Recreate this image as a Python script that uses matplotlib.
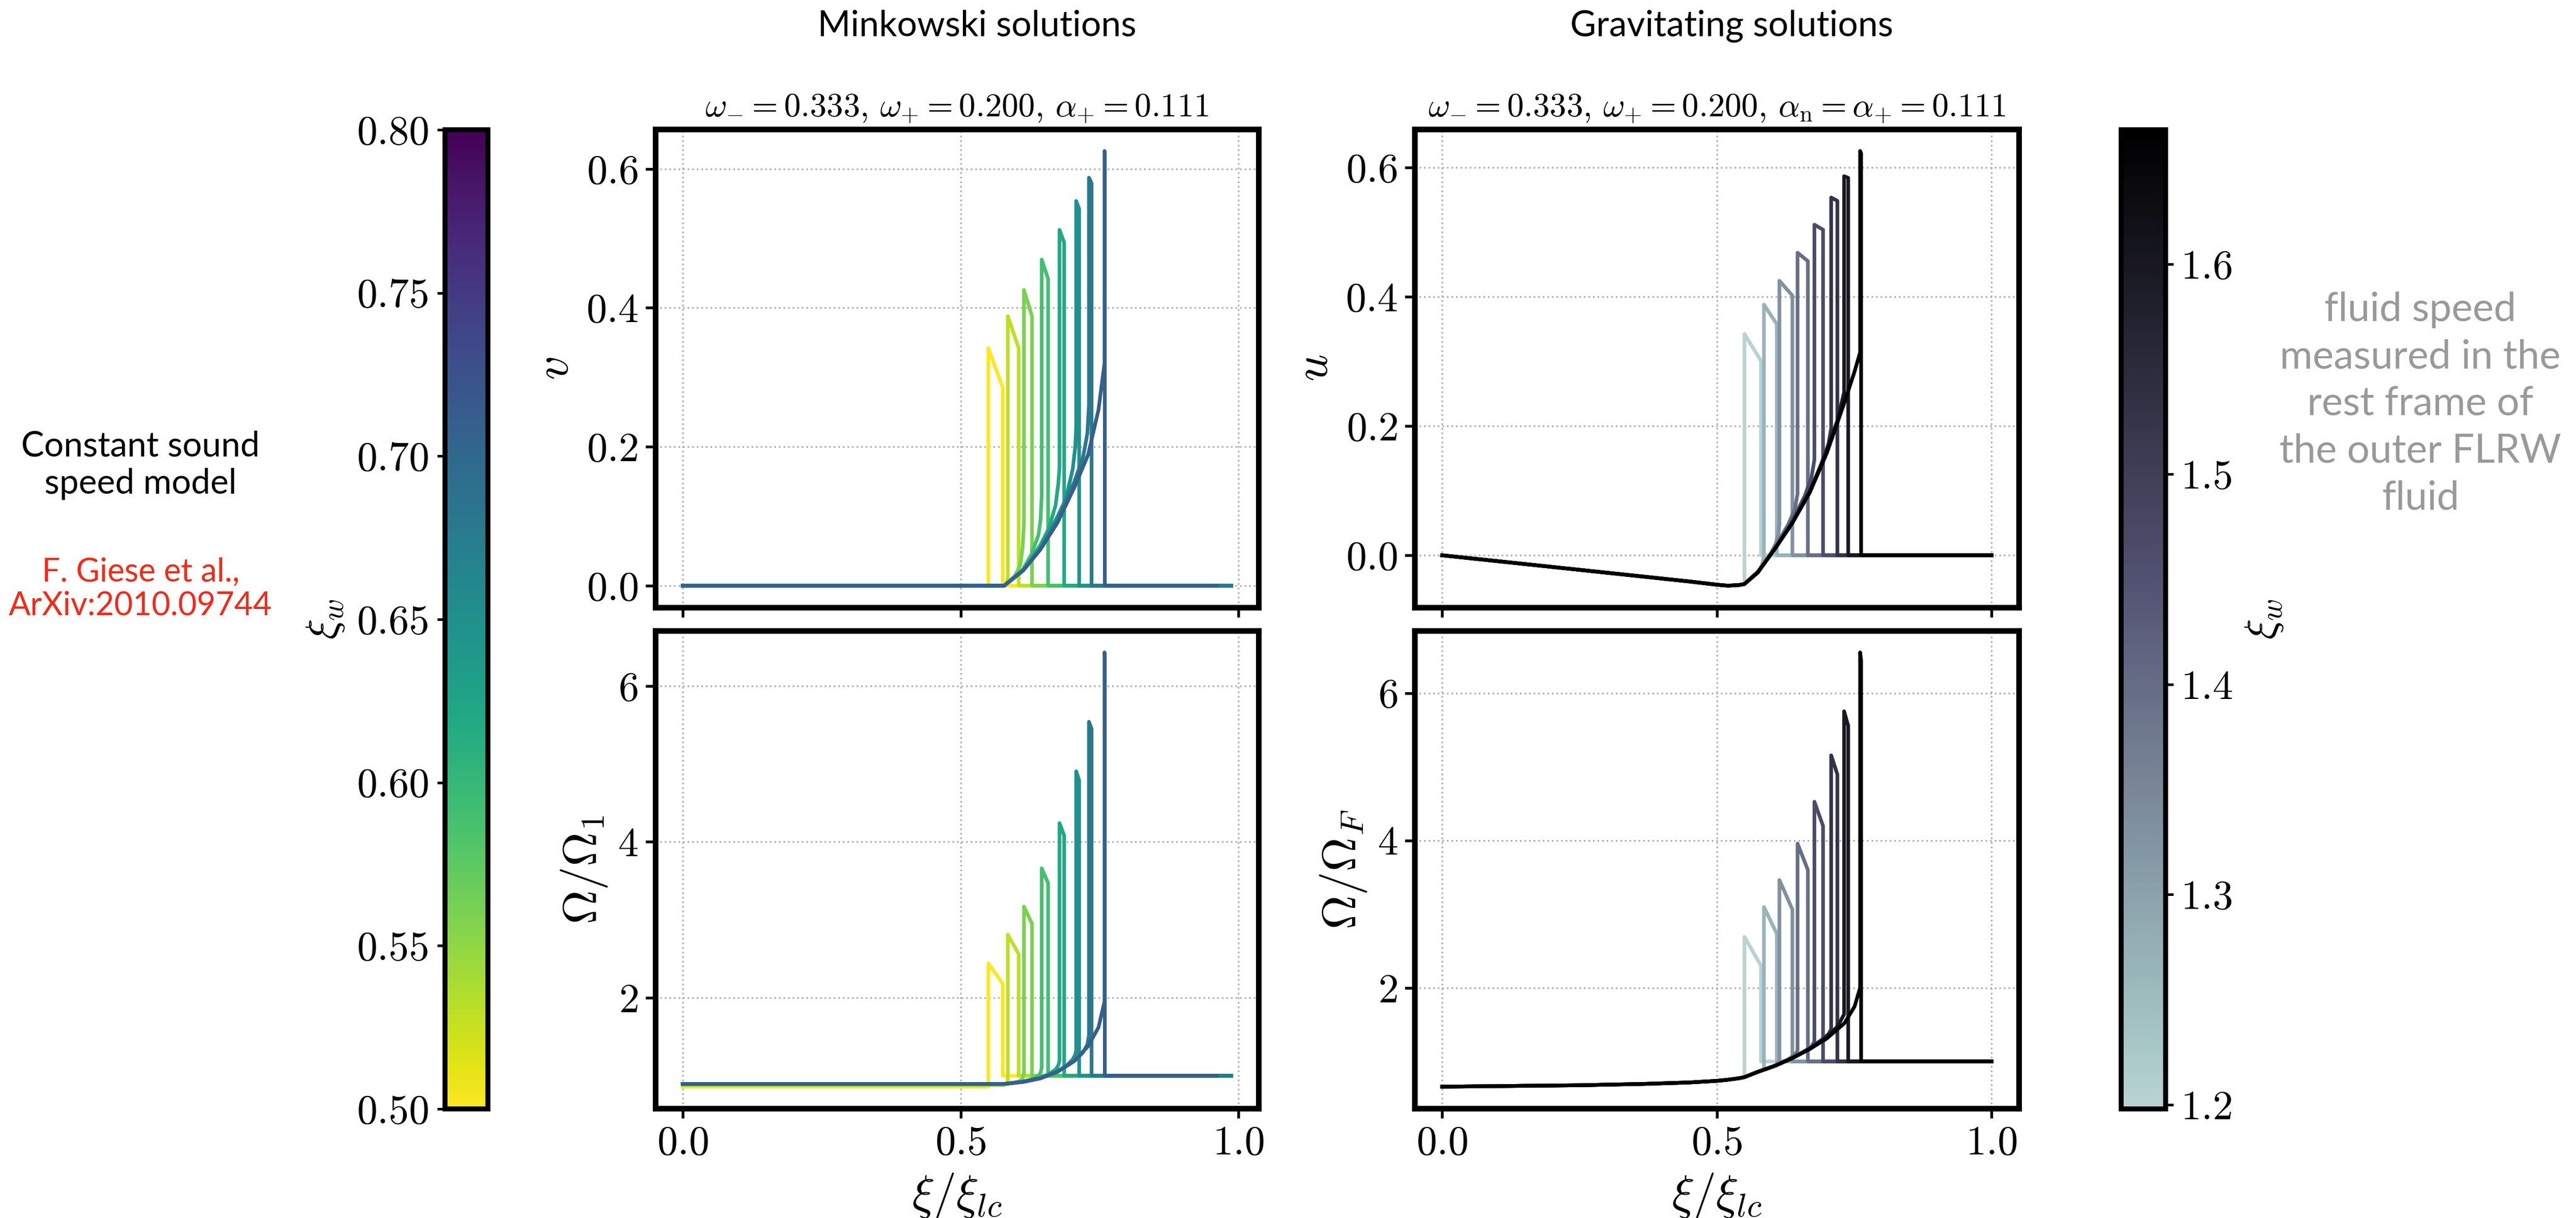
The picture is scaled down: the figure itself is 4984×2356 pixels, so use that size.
import numpy as np
import matplotlib
matplotlib.use('Agg')
import matplotlib.pyplot as plt
from matplotlib.colors import Normalize, ListedColormap
from matplotlib.cm import ScalarMappable
from matplotlib.ticker import FormatStrFormatter

# ---------------- data ----------------
# Minkowski solutions (left column), one entry per curve
mink_xiw = [0.50, 0.53, 0.56, 0.59, 0.62, 0.65, 0.68, 0.71]          # colour value
mink_wall = [0.550, 0.585, 0.614, 0.646, 0.678, 0.708, 0.731, 0.759]
mink_shock = [0.576, 0.6045, 0.6285, 0.6575, 0.6864, 0.7134, 0.7357, 0.7595]
mink_end = [0.987, 0.987, 0.987, 0.987, 0.987, 0.987, 0.987, 0.961]

# rarefaction wave behind the wall (x positions shared by v and Omega)
mink_rare_x = [
    [],
    [0.5785, 0.583],
    [0.5785, 0.597, 0.6077, 0.6117],
    [0.5785, 0.6125, 0.6278, 0.6402, 0.6439],
    [0.5785, 0.6125, 0.6433, 0.6587, 0.6710, 0.6757],
    [0.5785, 0.6125, 0.6433, 0.6741, 0.6895, 0.7018, 0.7064],
    [0.5785, 0.6125, 0.6433, 0.6741, 0.7049, 0.7204, 0.7281],
    [0.5785, 0.6125, 0.6433, 0.6741, 0.7049, 0.7296, 0.7481],
]
mink_v_rare = [
    [],
    [0.0, 0.004],
    [0.0, 0.013, 0.030, 0.056],
    [0.0, 0.024, 0.0455, 0.073, 0.095],
    [0.0, 0.022, 0.058, 0.082, 0.116, 0.146],
    [0.0, 0.022, 0.053, 0.099, 0.125, 0.168, 0.200],
    [0.0, 0.022, 0.052, 0.092, 0.150, 0.185, 0.219],
    [0.0, 0.0217, 0.0517, 0.0903, 0.1417, 0.1888, 0.253],
]
mink_v_lo = [0.0, 0.012, 0.09, 0.13, 0.17, 0.23, 0.26, 0.32]
mink_v_peak = [0.342, 0.388, 0.4257, 0.4694, 0.5122, 0.5538, 0.5873, 0.6258]
mink_v_sh = [0.285, 0.342, 0.388, 0.4416, 0.4939, 0.5422, 0.5795, 0.624]

mink_om_flat = [0.86, 0.88, 0.895, 0.895, 0.895, 0.895, 0.895, 0.895]
mink_om_rare = [
    [],
    [0.88, 0.90],
    [0.895, 0.91, 0.935, 0.97],
    [0.895, 0.925, 0.955, 0.995, 1.04],
    [0.895, 0.925, 0.975, 1.02, 1.08, 1.13],
    [0.895, 0.925, 0.97, 1.06, 1.12, 1.21, 1.27],
    [0.895, 0.922, 0.968, 1.05, 1.19, 1.30, 1.40],
    [0.895, 0.92, 0.965, 1.05, 1.19, 1.38, 1.62],
]
mink_om_lo = [0.86, 0.93, 1.03, 1.10, 1.19, 1.33, 1.52, 1.95]
mink_om_peak = [2.44, 2.81, 3.17, 3.66, 4.24, 4.905, 5.54, 6.43]
mink_om_sh = [2.18, 2.56, 2.95, 3.47, 4.08, 4.79, 5.45, 6.39]

# Gravitating solutions (right column)
grav_xiw = [1.198, 1.265, 1.331, 1.398, 1.464, 1.531, 1.597, 1.664]
grav_wall = [0.5501, 0.5856, 0.6138, 0.6468, 0.6775, 0.708, 0.7315, 0.7607]
grav_shock = [0.5802, 0.6091, 0.6374, 0.6656, 0.6932, 0.7193, 0.739, 0.7625]

grav_left_x = [0.0, 0.25, 0.37, 0.45, 0.50, 0.52, 0.54, 0.55]
grav_u_left = [0.0, -0.0225, -0.0333, -0.0405, -0.0455, -0.047, -0.046, -0.0445]
grav_om_left = [0.658, 0.677, 0.696, 0.715, 0.737, 0.752, 0.772, 0.787]

grav_rare_x = [
    [],
    [0.575, 0.582],
    [0.5746, 0.595, 0.607, 0.612],
    [0.5746, 0.606, 0.630, 0.642],
    [0.5746, 0.606, 0.637, 0.660, 0.672],
    [0.5746, 0.606, 0.637, 0.669, 0.690, 0.703],
    [0.5746, 0.606, 0.637, 0.669, 0.700, 0.720],
    [0.5746, 0.606, 0.637, 0.669, 0.700, 0.732, 0.7505],
]
grav_u_rare = [
    [],
    [-0.027, -0.015],
    [-0.025, -0.002, 0.018, 0.033],
    [-0.026, 0.013, 0.048, 0.072],
    [-0.026, 0.011, 0.053, 0.092, 0.120],
    [-0.026, 0.0105, 0.050, 0.100, 0.140, 0.172],
    [-0.0264, 0.0105, 0.0495, 0.098, 0.162, 0.210],
    [-0.0264, 0.0105, 0.0495, 0.097, 0.158, 0.236, 0.284],
]
grav_u_lo = [-0.0445, 0.0, 0.048, 0.095, 0.148, 0.196, 0.252, 0.314]
grav_u_peak = [0.3422, 0.3878, 0.4246, 0.468, 0.5114, 0.5534, 0.5864, 0.6254]
grav_u_sh = [0.301, 0.3574, 0.4017, 0.455, 0.5036, 0.5482, 0.5838, 0.622]

grav_om_rare = [
    [],
    [0.86, 0.875],
    [0.86, 0.91, 0.95, 0.985],
    [0.86, 0.945, 1.03, 1.09],
    [0.86, 0.943, 1.05, 1.14, 1.20],
    [0.86, 0.942, 1.045, 1.18, 1.29, 1.37],
    [0.859, 0.941, 1.044, 1.17, 1.33, 1.48],
    [0.859, 0.941, 1.044, 1.168, 1.312, 1.518, 1.745],
]
grav_om_lo = [0.787, 0.90, 1.02, 1.147, 1.27, 1.436, 1.64, 2.0]
grav_om_peak = [2.692, 3.096, 3.462, 3.957, 4.525, 5.155, 5.753, 6.552]
grav_om_sh = [2.30, 2.733, 3.063, 3.598, 4.196, 4.896, 5.555, 6.44]

# ---------------- style ----------------
plt.rcParams['font.family'] = 'serif'
plt.rcParams['font.serif'] = ['cmr10']
plt.rcParams['mathtext.fontset'] = 'cm'
plt.rcParams['axes.formatter.use_mathtext'] = True

SANS = 'Lato'
TICK_FS = 19
LABEL_FS = 22
LW = 1.7

mink_cmap = plt.get_cmap('viridis_r')
mink_norm = Normalize(0.5, 0.8)
grav_cmap = ListedColormap(plt.get_cmap('bone')(np.linspace(0.8, 0.0, 256)))
grav_norm = Normalize(min(grav_xiw), max(grav_xiw))


def profile(head_x, head_y, rx, ry, wall, lo, peak, shock, sh, base, end):
    xs = head_x + rx + [wall, wall, shock, shock, end]
    ys = head_y + ry + [lo, peak, sh, base, base]
    return xs, ys


def style(ax, yticks):
    ax.grid(True, ls=':', lw=0.8, color='#b0b0b0')
    for s in ax.spines.values():
        s.set_linewidth(2.6)
    ax.tick_params(direction='out', length=4.5, width=1.3, labelsize=TICK_FS)
    ax.set_xticks([0.0, 0.5, 1.0])
    ax.set_yticks(yticks)


fig = plt.figure(figsize=(4984 / 300, 2356 / 300), dpi=300)

ax_mv = fig.add_axes([0.2544, 0.5013, 0.2342, 0.3926])
ax_mo = fig.add_axes([0.2544, 0.0900, 0.2342, 0.3922])
ax_gu = fig.add_axes([0.5492, 0.5013, 0.2346, 0.3926])
ax_go = fig.add_axes([0.5492, 0.0900, 0.2346, 0.3922])

for i in range(8):
    c = mink_cmap(mink_norm(mink_xiw[i]))
    xs, ys = profile([0.0], [0.0], mink_rare_x[i], mink_v_rare[i], mink_wall[i],
                     mink_v_lo[i], mink_v_peak[i], mink_shock[i], mink_v_sh[i],
                     0.0, mink_end[i])
    ax_mv.plot(xs, ys, color=c, lw=LW)
    xs, ys = profile([0.0], [mink_om_flat[i]], mink_rare_x[i], mink_om_rare[i],
                     mink_wall[i], mink_om_lo[i], mink_om_peak[i], mink_shock[i],
                     mink_om_sh[i], 1.0, mink_end[i])
    ax_mo.plot(xs, ys, color=c, lw=LW)

    c = grav_cmap(grav_norm(grav_xiw[i]))
    xs, ys = profile(grav_left_x, grav_u_left, grav_rare_x[i], grav_u_rare[i],
                     grav_wall[i], grav_u_lo[i], grav_u_peak[i], grav_shock[i],
                     grav_u_sh[i], 0.0, 1.0)
    ax_gu.plot(xs, ys, color=c, lw=LW)
    xs, ys = profile(grav_left_x, grav_om_left, grav_rare_x[i], grav_om_rare[i],
                     grav_wall[i], grav_om_lo[i], grav_om_peak[i], grav_shock[i],
                     grav_om_sh[i], 1.0, 1.0)
    ax_go.plot(xs, ys, color=c, lw=LW)

style(ax_mv, [0.0, 0.2, 0.4, 0.6])
style(ax_gu, [0.0, 0.2, 0.4, 0.6])
style(ax_mo, [2, 4, 6])
style(ax_go, [2, 4, 6])
ax_mv.tick_params(labelbottom=False)
ax_gu.tick_params(labelbottom=False)

ax_mv.set_ylabel(r'$v$', fontsize=LABEL_FS)
ax_gu.set_ylabel(r'$u$', fontsize=LABEL_FS)
ax_mo.set_ylabel(r'$\Omega/\Omega_1$', fontsize=LABEL_FS)
ax_go.set_ylabel(r'$\Omega/\Omega_F$', fontsize=LABEL_FS)
ax_mo.set_xlabel(r'$\xi/\xi_{lc}$', fontsize=LABEL_FS)
ax_go.set_xlabel(r'$\xi/\xi_{lc}$', fontsize=LABEL_FS)

ax_mv.set_title(r'$\omega_{-} = 0.333$, $\omega_{+} = 0.200$, $\alpha_{+} = 0.111$', fontsize=15.5)
ax_gu.set_title(r'$\omega_{-} = 0.333$, $\omega_{+} = 0.200$, '
                r'$\alpha_{\mathrm{n}} = \alpha_{+} = 0.111$', fontsize=15.5)

# colour bars
cax_l = fig.add_axes([0.1728, 0.0896, 0.0167, 0.8039])
cb_l = fig.colorbar(ScalarMappable(norm=mink_norm, cmap=mink_cmap), cax=cax_l,
                    ticklocation='left')
cb_l.set_ticks([0.50, 0.55, 0.60, 0.65, 0.70, 0.75, 0.80])
cb_l.ax.yaxis.set_major_formatter(FormatStrFormatter('%.2f'))
cb_l.set_label(r'$\xi_w$', fontsize=20, labelpad=5)

cax_r = fig.add_axes([0.8234, 0.0896, 0.0173, 0.8039])
cb_r = fig.colorbar(ScalarMappable(norm=grav_norm, cmap=grav_cmap), cax=cax_r)
cb_r.set_ticks([1.2, 1.3, 1.4, 1.5, 1.6])
cb_r.set_label(r'$\xi_w$', fontsize=20, labelpad=5)

for cb in (cb_l, cb_r):
    cb.outline.set_linewidth(2.3)
    cb.ax.tick_params(labelsize=TICK_FS, length=3.5, width=1.2)

# text annotations
fig.text(0.3792, 0.9703, 'Minkowski solutions', family=SANS, fontsize=16.5,
         ha='center', va='baseline')
fig.text(0.6722, 0.9703, 'Gravitating solutions', family=SANS, fontsize=16.5,
         ha='center', va='baseline')
fig.text(0.0546, 0.618, 'Constant sound\nspeed model', family=SANS, fontsize=16,
         ha='center', va='center', linespacing=1.2)
fig.text(0.0546, 0.5166, 'F. Giese et al.,\nArXiv:2010.09744', family=SANS,
         fontsize=15, color='#f22a1a', ha='center', va='center', linespacing=1.15)
fig.text(0.9396, 0.6682, 'fluid speed\nmeasured in the\nrest frame of\nthe outer FLRW\nfluid',
         family=SANS, fontsize=18.5, color='#999999', ha='center', va='center',
         linespacing=1.35)

fig.savefig('out.png', dpi=300)
